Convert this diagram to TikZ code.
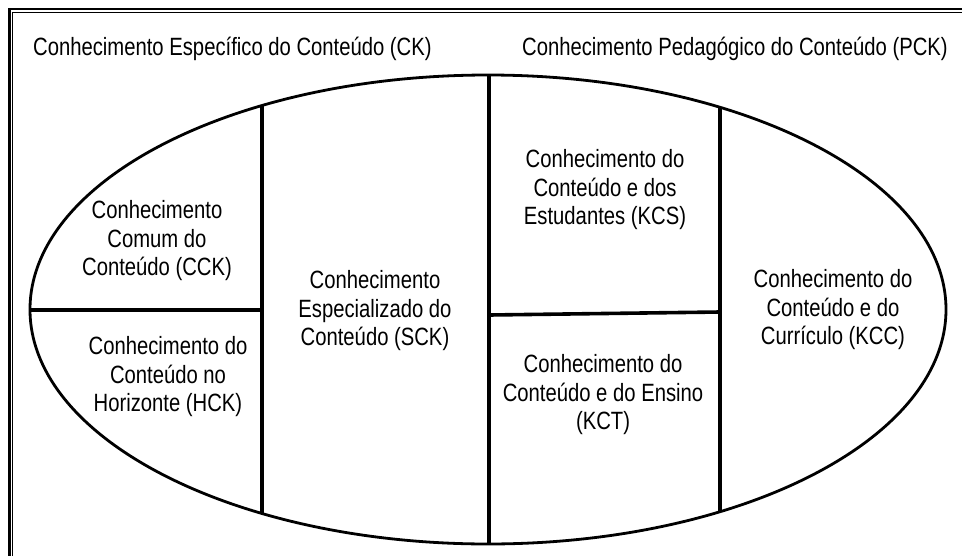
\documentclass[tikz,border=0pt]{standalone}
\usepackage{fontspec}
\setmainfont[FakeStretch=0.81]{Liberation Sans}
\begin{document}
\begin{tikzpicture}[x=1pt,y=-1pt,
  lbl/.style={align=center, font=\fontsize{25}{28.5}\selectfont, inner sep=0pt},
  toplbl/.style={anchor=west, font=\fontsize{25}{28.5}\selectfont, inner sep=0pt},
  part/.style={line width=3.6pt},
  rim/.style={line width=2.8pt}]
\useasboundingbox (0,0) rectangle (962,555);
% frame (double rule)
\coordinate (fa1) at (9.5,556); \coordinate (fa2) at (9.5,9.3); \coordinate (fa3) at (963,9.3);
\coordinate (fb1) at (12.8,556); \coordinate (fb2) at (12.8,12.8); \coordinate (fb3) at (963,12.8);
\draw[line width=2.2pt] (fa1) -- (fa2) -- (fa3);
\draw[line width=1.2pt] (fb1) -- (fb2) -- (fb3);
% ellipse
\coordinate (c) at (488,309.5);
\draw[rim] (c) ellipse [x radius=458pt, y radius=234.5pt];
% partitions
\coordinate (v1t) at (262,105); \coordinate (v1b) at (262,514);
\coordinate (v2t) at (489,74.5); \coordinate (v2b) at (489,544.5);
\coordinate (v3t) at (720,107); \coordinate (v3b) at (720,512);
\coordinate (h1l) at (30,310); \coordinate (h1r) at (262,310);
\coordinate (h2l) at (489,315); \coordinate (h2r) at (720,312);
\draw[part] (v1t) -- (v1b);
\draw[part] (v2t) -- (v2b);
\draw[part] (v3t) -- (v3b);
\draw[part] (h1l) -- (h1r);
\draw[part] (h2l) -- (h2r);
% labels
\node[toplbl] (ck) at (33,49) {Conhecimento Específico do Conteúdo (CK)};
\node[toplbl] (pck) at (522,49) {Conhecimento Pedagógico do Conteúdo (PCK)};
\node[lbl] (cck) at (157,241) {Conhecimento\\Comum do\\Conteúdo (CCK)};
\node[lbl] (hck) at (168,377) {Conhecimento do\\Conteúdo no\\Horizonte (HCK)};
\node[lbl] (sck) at (375,311) {Conhecimento\\Especializado do\\Conteúdo (SCK)};
\node[lbl] (kcs) at (605,190) {Conhecimento do\\Conteúdo e dos\\Estudantes (KCS)};
\node[lbl] (kct) at (603,395) {Conhecimento do\\Conteúdo e do Ensino\\(KCT)};
\node[lbl] (kcc) at (833,310) {Conhecimento do\\Conteúdo e do\\Currículo (KCC)};
\end{tikzpicture}
\end{document}
